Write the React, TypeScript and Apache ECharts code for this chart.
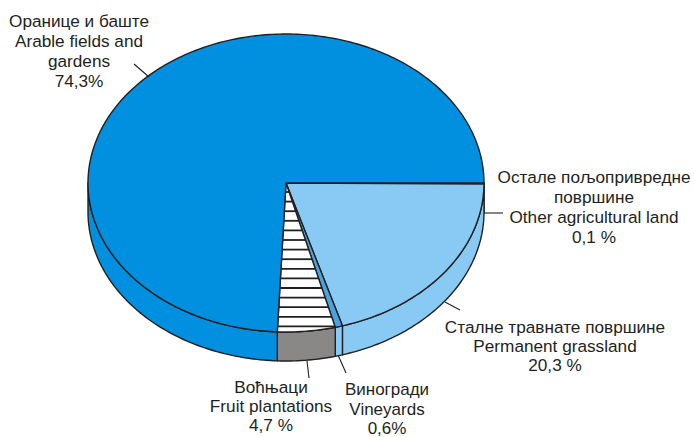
import React, { useEffect, useRef } from "react";
import * as echarts from "echarts";

const categories = ["Other agricultural land", "Permanent grassland", "Vineyards", "Fruit plantations", "Arable fields and gardens"];
const shares = [0.1, 20.3, 0.6, 4.7, 74.3];
const topColors = ["#3f9ad6", "#88CAF4", "#4BA3DE", "#FFFFFF", "#0090DF"];
const sideColors = ["#88CAF4", "#88CAF4", "#88CAF4", "#8A8887", "#0090DF"];
const hatched = [false, false, false, true, false];

const labelLines = [
  ["Оранице и баште", "Arable fields and", "gardens", "74,3%"],
  ["Остале пољопривредне", "површине", "Other agricultural land", "0,1 %"],
  ["Сталне травнате површине", "Permanent grassland", "20,3 %"],
  ["Воћњаци", "Fruit plantations", "4,7 %"],
  ["Виногради", "Vineyards", "0,6%"],
];
const labelAnchors = [[79, 11], [594, 167], [555, 317], [271, 377], [387, 380]];
const labelLeading = [20, 20, 19, 19, 19.5];
const labelSizes = [17.2, 17.2, 17.2, 17.2, 17];
const leaders = [
  [134, 64, 149, 77],
  [484, 213, 503, 213],
  [445, 302, 460, 310],
  [307, 361, 309, 378],
  [338, 355, 346, 373],
];

const CX = 286, CY = 183, RX = 198, RY = 149, DEPTH = 29;
const INK = "#231F20";
const total = shares.reduce((a, b) => a + b, 0);

// angle t: measured from the bottom of the ellipse, falling clockwise on screen
function bounds(i: number) {
  let before = 0;
  for (let k = 0; k < i; k++) before += shares[k];
  const a = 90 - (before / total) * 360;
  const b = a - (shares[i] / total) * 360;
  return [a, b];
}
const pt = (t: number, dy = 0) => {
  const r = (t * Math.PI) / 180;
  return [CX + RX * Math.sin(r), CY + RY * Math.cos(r) + dy];
};
function arc(a: number, b: number, dy = 0) {
  const n = Math.max(2, Math.ceil(Math.abs(a - b)));
  const out: number[][] = [];
  for (let i = 0; i <= n; i++) out.push(pt(a + ((b - a) * i) / n, dy));
  return out;
}
const lineStyle = { stroke: INK, lineWidth: 1.4, lineJoin: "round" };

function renderWall(params: any) {
  const [a0, b0] = bounds(params.dataIndex);
  const a = Math.min(a0, 90), b = Math.max(b0, -90);
  return {
    type: "polygon",
    shape: { points: [...arc(a, b), ...arc(b, a, DEPTH)] },
    style: { fill: sideColors[params.dataIndex], ...lineStyle },
  };
}

function renderTop(params: any) {
  const i = params.dataIndex;
  const [a, b] = bounds(i);
  const pts = [[CX, CY], ...arc(a, b)];
  const children: any[] = [
    { type: "polygon", shape: { points: pts }, style: { fill: topColors[i], stroke: "none" } },
  ];
  if (hatched[i]) {
    const pa = pt(a), pb = pt(b);
    for (let y = CY + 9; y < Math.min(pa[1], pb[1]) + 2; y += 9.6) {
      const x1 = CX + ((pb[0] - CX) * (y - CY)) / (pb[1] - CY);
      const x2 = CX + ((pa[0] - CX) * (y - CY)) / (pa[1] - CY);
      children.push({
        type: "line",
        shape: { x1, y1: y, x2, y2: y },
        style: { stroke: INK, lineWidth: 1.8 },
      });
    }
  }
  children.push({ type: "polygon", shape: { points: pts }, style: { fill: "none", ...lineStyle } });
  return { type: "group", children };
}

const seriesData = categories.map((name, i) => ({ name, value: shares[i] }));

export default function App() {
  const ref = useRef<HTMLDivElement>(null);
  useEffect(() => {
    document.body.style.margin = "0";
    const chart = echarts.init(ref.current!, null, { renderer: "svg" });
    chart.setOption({
      animation: false,
      backgroundColor: "#FFFFFF",
      series: [
        { type: "custom", coordinateSystem: "none", z: 1, silent: true, data: seriesData, renderItem: renderWall },
        { type: "custom", coordinateSystem: "none", z: 2, silent: true, data: seriesData, renderItem: renderTop },
      ],
      graphic: [
        ...leaders.map(([x1, y1, x2, y2]) => ({
          type: "line",
          z: 3,
          shape: { x1, y1, x2, y2 },
          style: { stroke: INK, lineWidth: 1.1 },
        })),
        ...labelLines.map((lines, i) => ({
          type: "text",
          z: 3,
          x: labelAnchors[i][0],
          y: labelAnchors[i][1],
          style: {
            text: lines.join("\n"),
            font: `${labelSizes[i]}px "Liberation Sans", Arial, sans-serif`,
            lineHeight: labelLeading[i],
            fill: "#231F20",
            align: "center",
            verticalAlign: "top",
          },
        })),
      ],
    });
    return () => chart.dispose();
  }, []);
  return <div ref={ref} style={{ width: 694, height: 437 }} />;
}
